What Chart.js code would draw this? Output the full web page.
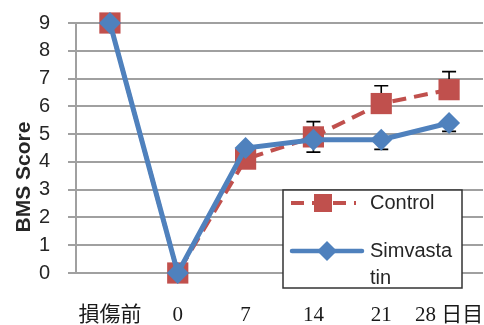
<!DOCTYPE html>
<html>
<head>
<meta charset="utf-8">
<script src="https://cdn.jsdelivr.net/npm/chart.js@4/dist/chart.umd.min.js"></script>
<style>
  html, body { margin: 0; padding: 0; background: #ffffff; }
  #wrap { width: 484px; height: 325px; }
</style>
</head>
<body>
<div id="wrap"><canvas id="chart" width="484" height="325"></canvas></div>
<script>
// Time points (days after injury)
const categories = ['損傷前', '0', '7', '14', '21', '28 日目'];

// BMS scores per group, with one-sided error bars
const controlScores = [9, 0, 4.1, 4.9, 6.1, 6.6];
const controlErrors = [0, 0, 0, 0.55, 0.64, 0.65];      // drawn upward
const simvastatinScores = [9, 0, 4.5, 4.8, 4.8, 5.4];
const simvastatinErrors = [0, 0, 0, 0.45, 0.35, 0.3];   // drawn downward

const seriesNames = ['Control', 'Simvastatin'];
const yAxisTitle = 'BMS Score';

const RED = '#C0504D';
const BLUE = '#4F81BD';
const GRID = '#a0a0a0';

// One-sided error bars, drawn beneath the markers
const errorBarPlugin = {
  id: 'errorBars',
  beforeDatasetsDraw(chart) {
    const { ctx, scales: { x, y } } = chart;
    const sets = [
      { values: controlScores, errors: controlErrors, dir: 1 },
      { values: simvastatinScores, errors: simvastatinErrors, dir: -1 }
    ];
    ctx.save();
    ctx.strokeStyle = '#000000';
    ctx.lineWidth = 1.6;
    sets.forEach(s => {
      s.values.forEach((v, i) => {
        const e = s.errors[i];
        if (!e) return;
        const px = x.getPixelForValue(i);
        const p0 = y.getPixelForValue(v);
        const p1 = y.getPixelForValue(v + s.dir * e);
        ctx.beginPath();
        ctx.moveTo(px, p0);
        ctx.lineTo(px, p1);
        ctx.moveTo(px - 7, p1);
        ctx.lineTo(px + 7, p1);
        ctx.stroke();
      });
    });
    ctx.restore();
  }
};

// Category labels under the axis, placed at each category's pixel
const categoryLabelPlugin = {
  id: 'categoryLabels',
  afterDraw(chart) {
    const { ctx, scales: { x, y } } = chart;
    ctx.save();
    ctx.font = '21px "Liberation Serif", "Times New Roman", "Noto Sans CJK JP", serif';
    ctx.fillStyle = '#1a1a1a';
    ctx.textAlign = 'center';
    ctx.textBaseline = 'middle';
    const ly = y.getPixelForValue(0) + 42;
    categories.forEach((label, i) => {
      ctx.fillText(label, x.getPixelForValue(i), ly);
    });
    ctx.restore();
  }
};

// Rotated y-axis title
const axisTitlePlugin = {
  id: 'axisTitle',
  afterDraw(chart) {
    const { ctx } = chart;
    ctx.save();
    ctx.translate(24, 177);
    ctx.rotate(-Math.PI / 2);
    ctx.font = 'bold 21px "Liberation Sans", Arial, sans-serif';
    ctx.fillStyle = '#262626';
    ctx.textAlign = 'center';
    ctx.textBaseline = 'middle';
    ctx.fillText(yAxisTitle, 0, 0);
    ctx.restore();
  }
};

// Boxed legend inside the plot area
const legendBoxPlugin = {
  id: 'legendBox',
  afterDraw(chart) {
    const { ctx } = chart;
    const left = 283, top = 190, w = 179, h = 98;
    ctx.save();
    ctx.fillStyle = '#ffffff';
    ctx.fillRect(left, top, w, h);
    ctx.strokeStyle = '#333333';
    ctx.lineWidth = 1.5;
    ctx.strokeRect(left, top, w, h);

    // Control entry: dashed red line with square marker
    const y1 = 203;
    ctx.strokeStyle = RED;
    ctx.lineWidth = 4;
    ctx.setLineDash([13, 8]);
    ctx.beginPath();
    ctx.moveTo(291, y1);
    ctx.lineTo(356, y1);
    ctx.stroke();
    ctx.setLineDash([]);
    ctx.fillStyle = RED;
    ctx.fillRect(314, y1 - 9, 18, 18);

    // Simvastatin entry: solid blue line with diamond marker
    const y2 = 251;
    ctx.strokeStyle = BLUE;
    ctx.lineWidth = 4.5;
    ctx.lineCap = 'round';
    ctx.beginPath();
    ctx.moveTo(292, y2);
    ctx.lineTo(362, y2);
    ctx.stroke();
    ctx.fillStyle = BLUE;
    ctx.beginPath();
    ctx.moveTo(327, y2 - 10);
    ctx.lineTo(337, y2);
    ctx.lineTo(327, y2 + 10);
    ctx.lineTo(317, y2);
    ctx.closePath();
    ctx.fill();

    ctx.fillStyle = '#262626';
    ctx.font = '20px "Liberation Sans", Arial, sans-serif';
    ctx.textAlign = 'left';
    ctx.textBaseline = 'middle';
    ctx.fillText('Control', 370, y1);
    ctx.fillText('Simvasta', 370, y2);
    ctx.fillText('tin', 370, 278);
    ctx.restore();
  }
};

new Chart(document.getElementById('chart'), {
  type: 'line',
  data: {
    labels: categories,
    datasets: [
      {
        label: seriesNames[0],
        data: controlScores,
        order: 1,
        clip: false,
        borderColor: RED,
        backgroundColor: RED,
        borderWidth: 4,
        borderDash: [14, 8],
        pointStyle: 'rect',
        pointRadius: 15,
        pointBorderWidth: 0,
        pointBackgroundColor: RED,
        tension: 0
      },
      {
        label: seriesNames[1],
        data: simvastatinScores,
        order: 0,
        clip: false,
        borderColor: BLUE,
        backgroundColor: BLUE,
        borderWidth: 5,
        pointStyle: 'rectRot',
        pointRadius: 11,
        pointBorderWidth: 0,
        pointBackgroundColor: BLUE,
        tension: 0
      }
    ]
  },
  options: {
    responsive: false,
    animation: false,
    events: [],
    layout: { autoPadding: false, padding: { left: 0, right: 1, top: 23, bottom: 0 } },
    plugins: {
      legend: { display: false },
      tooltip: { enabled: false },
      title: { display: false }
    },
    scales: {
      x: {
        type: 'category',
        offset: true,
        grid: { display: false },
        border: { display: false },
        ticks: { display: false },
        afterFit(scale) {
          scale.height = 52;
        }
      },
      y: {
        min: 0,
        max: 9,
        ticks: {
          stepSize: 1,
          color: '#262626',
          font: { family: '"Liberation Sans", Arial, sans-serif', size: 20 },
          padding: 18
        },
        grid: {
          color: GRID,
          lineWidth: 2,
          drawTicks: true,
          tickLength: 8
        },
        border: { display: true, color: GRID, width: 2 },
        afterFit(scale) {
          scale.width = 76;
          scale.paddingTop = 0;
          scale.paddingBottom = 0;
        }
      }
    }
  },
  plugins: [errorBarPlugin, categoryLabelPlugin, axisTitlePlugin, legendBoxPlugin]
});
</script>
</body>
</html>
